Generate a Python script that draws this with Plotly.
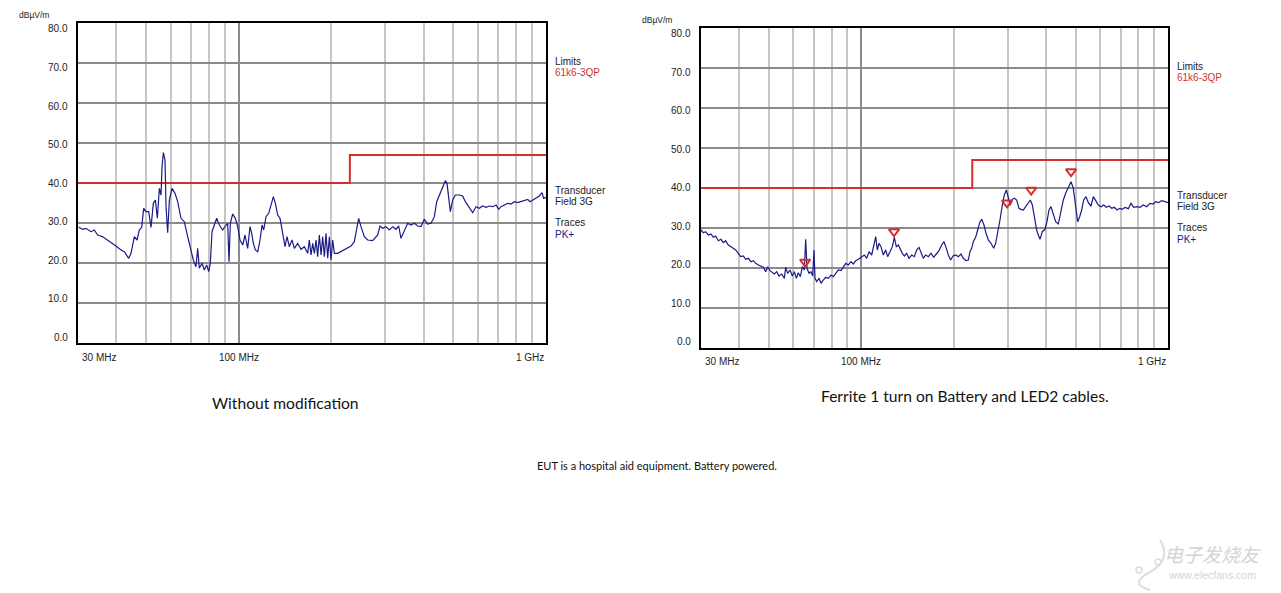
import numpy as np
import plotly.graph_objects as go

W, H = 1281, 593

# ---------------- data ----------------
# Left chart: "Without modification" (frequency MHz, level dBuV/m)
freq_a = [30.15, 31.07, 31.85, 33.07, 33.9, 34.76, 36.09, 37.47, 38.9, 39.88,
          41.41, 42.46, 43.86, 44.63, 45.76, 46.68, 47.5, 48.35, 49.07, 49.94,
          50.95, 51.85, 52.75, 53.56, 54.37, 55.19, 55.88, 56.3, 56.87, 57.58,
          58.02, 58.74, 59.48, 60.68, 62.06, 63.31, 64.91, 66.55, 68.23, 69.96,
          71.19, 72.63, 73.54, 74.46, 75.97, 77.31, 78.68, 79.86, 80.86, 81.89,
          83.34, 84.8, 86.51, 88.7, 90.48, 92.08, 93.01, 93.94, 95.6, 97.53,
          99.26, 101.0, 103.05, 104.85, 106.97, 108.86, 110.23, 111.63, 113.32, 115.32,
          117.35, 119.12, 120.61, 122.74, 125.23, 127.44, 129.68, 131.63, 133.95, 136.32,
          139.04, 141.49, 143.62, 146.16, 149.12, 151.75, 155.57, 159.52, 163.56, 167.71,
          169.81, 171.94, 174.09, 176.3, 178.51, 180.74, 183.01, 185.34, 187.65, 190.0,
          192.38, 194.83, 197.26, 199.73, 202.23, 204.8, 209.95, 215.24, 220.71, 226.27,
          232.0, 237.85, 242.66, 245.7, 250.04, 256.38, 262.85, 272.9, 283.35, 288.35,
          294.11, 301.6, 309.2, 317.0, 325.0, 331.6, 337.4, 345.9, 354.7, 363.7,
          372.9, 382.3, 392.0, 401.9, 412.1, 422.5, 433.2, 440.9, 449.7, 461.1,
          470.4, 476.3, 482.3, 488.3, 496.9, 507.0, 522.4, 535.7, 546.4, 563.1,
          577.3, 591.9, 606.9, 622.3, 638.0, 654.1, 670.7, 687.6, 701.5, 713.9,
          732.0, 750.4, 769.4, 788.9, 808.8, 829.3, 850.2, 871.8, 887.2, 905.0,
          927.9, 951.3, 970.5, 982.7, 1000]
level_a = [28.92, 28.42, 28.67, 27.83, 28.25, 27.0, 26.58, 25.75, 24.92, 24.25,
           23.25, 22.83, 21.17, 22.42, 26.58, 25.75, 28.25, 28.92, 33.67, 32.83,
           32.83, 28.92, 34.92, 35.75, 31.17, 38.67, 37.0, 44.08, 47.58, 45.75,
           34.08, 27.58, 35.75, 38.67, 37.42, 35.33, 31.17, 30.33, 26.58, 23.25,
           20.75, 19.08, 23.67, 18.67, 19.92, 18.25, 19.5, 17.83, 19.92, 27.83,
           29.5, 31.17, 29.5, 28.25, 29.25, 29.92, 20.33, 29.92, 32.25, 31.17,
           29.08, 25.75, 24.5, 27.0, 23.67, 29.08, 27.42, 24.92, 23.25, 22.83,
           25.75, 29.5, 28.25, 31.58, 32.42, 34.92, 36.58, 34.92, 32.0, 31.17,
           27.83, 24.08, 26.58, 24.08, 25.75, 23.67, 24.92, 23.42, 24.08, 22.42,
           25.75, 22.0, 24.92, 22.42, 25.75, 21.58, 27.0, 22.0, 26.58, 21.58,
           27.42, 21.17, 26.58, 20.75, 25.75, 22.42, 22.42, 22.83, 23.25, 23.67,
           24.25, 25.33, 29.5, 31.17, 29.08, 26.58, 25.75, 25.58, 27.0, 29.25,
           28.67, 29.08, 28.25, 29.08, 28.42, 29.25, 26.17, 28.25, 29.92, 29.5,
           29.92, 29.25, 29.08, 30.92, 29.75, 29.92, 31.58, 35.33, 37.0, 39.08,
           40.58, 39.92, 35.75, 32.83, 35.75, 37.0, 37.0, 36.75, 35.33, 33.67,
           32.58, 34.08, 33.67, 34.25, 33.92, 34.25, 34.08, 34.5, 33.42, 34.08,
           34.5, 34.92, 34.75, 35.33, 35.08, 35.33, 35.58, 35.92, 35.33, 35.75,
           36.17, 36.75, 37.58, 36.17, 36.42]

# Right chart: "Ferrite 1 turn on Battery and LED2 cables."
freq_b = [30.0, 30.53, 31.07, 31.7, 32.34, 32.91, 33.49, 34.17, 34.86, 35.48,
          36.1, 36.83, 37.58, 38.24, 38.92, 39.7, 40.41, 41.22, 41.95, 42.8,
          43.67, 44.44, 45.23, 46.14, 47.07, 47.91, 48.75, 49.49, 50.37, 51.26,
          52.03, 52.95, 53.89, 54.98, 56.09, 56.66, 57.51, 58.53, 59.57, 60.47,
          61.38, 62.31, 63.26, 64.21, 65.19, 65.84, 66.5, 67.51, 68.53, 69.39,
          70.09, 70.62, 71.51, 72.77, 73.87, 75.18, 76.51, 78.06, 79.64, 81.04,
          82.48, 84.14, 85.85, 87.37, 88.91, 90.71, 92.54, 94.18, 95.84, 97.78,
          100.26, 102.29, 104.09, 105.93, 108.08, 109.99, 111.37, 112.75, 114.17, 115.9,
          117.95, 120.04, 121.86, 124.01, 126.2, 128.11, 130.05, 132.02, 134.0, 136.04,
          138.09, 140.53, 143.02, 145.91, 148.86, 151.49, 154.17, 156.51, 159.26, 162.08,
          165.35, 168.7, 172.12, 175.6, 179.15, 182.77, 186.0, 189.29, 192.15, 195.55,
          199.01, 203.03, 207.14, 211.33, 215.06, 219.41, 223.29, 226.1, 228.94, 231.82,
          235.92, 239.5, 243.73, 246.8, 251.16, 254.97, 259.47, 264.72, 270.08, 274.17,
          278.32, 283.22, 288.23, 292.59, 297.01, 301.5, 306.06, 310.71, 315.39, 320.97,
          326.64, 331.59, 337.47, 343.44, 350.37, 355.68, 361.08, 366.54, 373.02, 377.67,
          382.44, 389.19, 397.08, 403.08, 409.2, 415.38, 422.73, 430.2, 438.9, 447.78,
          455.7, 463.77, 473.16, 482.73, 491.25, 499.95, 507.51, 515.19, 522.99, 530.91,
          540.3, 549.84, 560.97, 570.9, 580.98, 592.74, 604.74, 616.95, 629.43, 642.15,
          655.14, 668.37, 681.9, 695.67, 709.74, 724.11, 742.44, 757.44, 772.77, 790.38,
          810.39, 830.91, 851.94, 873.48, 895.62, 911.46, 929.88, 953.4, 977.55, 1000]
level_b = [29.5, 28.83, 29.08, 28.25, 28.5, 27.67, 28.0, 26.83, 27.17, 26.33,
           26.83, 25.75, 25.33, 24.92, 24.5, 23.67, 22.83, 23.0, 22.17, 22.42,
           21.58, 21.83, 21.17, 20.75, 20.5, 20.17, 19.08, 20.33, 19.33, 18.83,
           18.5, 19.08, 18.0, 18.5, 17.42, 20.17, 18.67, 19.5, 18.0, 19.08,
           17.42, 18.83, 17.83, 20.33, 19.5, 27.17, 19.92, 18.67, 19.08, 18.0,
           24.5, 17.42, 16.58, 17.42, 16.17, 17.0, 17.67, 17.42, 18.25, 17.83,
           18.67, 19.5, 19.33, 20.33, 21.17, 20.75, 21.58, 21.0, 21.83, 22.17,
           22.83, 23.25, 22.42, 24.08, 23.25, 25.75, 27.83, 24.5, 26.17, 25.33,
           23.25, 24.5, 22.83, 24.08, 25.33, 27.67, 25.33, 25.75, 24.5, 23.67,
           23.0, 23.67, 22.42, 23.25, 22.83, 24.5, 25.17, 23.83, 22.42, 23.25,
           22.83, 23.67, 22.67, 23.5, 24.33, 25.75, 26.58, 24.92, 23.25, 22.0,
           23.0, 23.25, 22.83, 23.5, 22.42, 21.83, 22.0, 24.08, 24.92, 26.58,
           27.67, 29.5, 31.58, 32.17, 30.75, 28.67, 27.0, 26.17, 24.92, 26.17,
           28.67, 32.0, 35.75, 38.25, 39.5, 37.83, 35.75, 37.17, 37.42, 37.0,
           34.92, 34.67, 34.5, 35.33, 36.17, 37.0, 35.75, 32.83, 29.5, 28.25,
           27.17, 29.08, 29.67, 31.58, 34.5, 35.33, 33.25, 31.58, 31.0, 34.08,
           37.0, 38.67, 40.33, 41.58, 39.92, 35.33, 31.58, 32.83, 34.5, 37.0,
           37.83, 36.33, 35.5, 37.83, 37.0, 35.75, 35.33, 35.75, 35.17, 35.5,
           34.92, 35.17, 34.5, 34.92, 34.67, 35.17, 34.83, 36.17, 35.17, 35.33,
           35.17, 35.75, 35.33, 36.17, 36.0, 36.58, 36.33, 36.83, 36.58, 36.33]

# Markers on the right chart
marker_freq = [65.6, 127.8, 298.6, 358.0, 483.0]
marker_level = [21.5, 29.1, 36.3, 39.5, 44.1]

# Limit line 61k6-3QP
limit_freq = [30, 230, 230, 1000]
limit_level = [40, 40, 47, 47]

# Axis ticks
x_tick_vals = [30, 100, 1000]
x_tick_text = ["30 MHz", "100 MHz", "1 GHz"]
x_minor_vals = [40, 50, 60, 70, 80, 90, 200, 300, 400, 500, 600, 700, 800, 900]
y_tick_vals = [0, 10, 20, 30, 40, 50, 60, 70, 80]
y_unit = "dBµV/m"

captions = ["Without modification", "Ferrite 1 turn on Battery and LED2 cables."]
footer = "EUT is a hospital aid equipment. Battery powered."

# ---------------- styling ----------------
TRACE = "#1b1b87"
LIMIT = "#d23030"
TXT = "#222222"
FONT = "Liberation Sans, Arial, sans-serif"
CAPF = "Lato, Open Sans, Liberation Sans, sans-serif"
FS = 10


def px(x):
    return x / W


def py(y):
    return 1 - y / H


# plot boxes in pixels: (left, right, top, bottom)
boxes = [(78, 546, 23, 343), (701, 1168, 28, 348)]

fig = go.Figure()
layout = dict(
    width=W, height=H, margin=dict(l=0, r=0, t=0, b=0),
    paper_bgcolor="white", plot_bgcolor="white", showlegend=False,
)

annotations = []
for i, (l, r, t, b) in enumerate(boxes):
    sfx = "" if i == 0 else str(i + 1)
    xa, ya = "x" + sfx, "y" + sfx
    layout["xaxis" + sfx] = dict(
        type="log", domain=[px(l), px(r)], anchor=ya,
        range=[np.log10(30), np.log10(1000)],
        showline=True, mirror=True, linecolor="black", linewidth=2,
        showticklabels=False, ticks="", tickvals=[100],
        showgrid=True, gridcolor="#8a8a8a", gridwidth=2, zeroline=False,
        minor=dict(tickvals=x_minor_vals, showgrid=True, gridcolor="#c6c6c6",
                   gridwidth=2, ticks=""),
    )
    layout["yaxis" + sfx] = dict(
        domain=[py(b), py(t)], anchor=xa, range=[0, 80],
        showline=True, mirror=True, linecolor="black", linewidth=2,
        showticklabels=False, ticks="", tickvals=y_tick_vals[1:-1],
        showgrid=True, gridcolor="#8a8a8a", gridwidth=2, zeroline=False,
    )

    fig.add_trace(go.Scatter(x=limit_freq, y=limit_level, mode="lines",
                             line=dict(color=LIMIT, width=2), xaxis=xa, yaxis=ya,
                             hoverinfo="skip"))
    fx, lv = (freq_a, level_a) if i == 0 else (freq_b, level_b)
    fig.add_trace(go.Scatter(x=fx, y=lv, mode="lines",
                             line=dict(color=TRACE, width=1.2), xaxis=xa, yaxis=ya))

    # y tick labels
    for v in y_tick_vals:
        annotations.append(dict(
            x=px(l - 8), xref="paper", xanchor="right",
            y=v, yref=ya, yanchor="middle", yshift=-(v - 40) * 0.15,
            text=f"{v:.1f}", showarrow=False, font=dict(family=FONT, size=FS, color=TXT)))
    # unit label
    annotations.append(dict(
        x=px(17 if i == 0 else 640), xref="paper", xanchor="left",
        y=py(15 if i == 0 else 20), yref="paper", yanchor="middle",
        text=y_unit, showarrow=False, font=dict(family=FONT, size=8.5, color=TXT)))
    # x tick labels
    for v, s in zip(x_tick_vals, x_tick_text):
        anchor = "left" if v == x_tick_vals[0] else ("right" if v == x_tick_vals[-1] else "center")
        annotations.append(dict(
            x=np.log10(v), xref=xa, xanchor=anchor,
            xshift=2 if anchor == "left" else 0,
            y=py(b + 14), yref="paper", yanchor="middle",
            text=s, showarrow=False, font=dict(family=FONT, size=FS, color=TXT)))
    # side legend
    side = [("Limits", 70.3, TXT), ("61k6-3QP", 67.6, LIMIT),
            ("Transducer", 38.1, TXT), ("Field 3G", 35.3, TXT),
            ("Traces", 30.2, TXT), ("PK+", 27.2, TRACE)]
    for s, yv, c in side:
        annotations.append(dict(
            x=px(r + 7), xref="paper", xanchor="left",
            y=yv, yref=ya, yanchor="middle",
            text=s, showarrow=False, font=dict(family=FONT, size=FS, color=c)))

fig.add_trace(go.Scatter(x=marker_freq, y=marker_level, mode="markers",
                         marker=dict(symbol="triangle-down-open", size=9, color=LIMIT,
                                     line=dict(width=2, color=LIMIT)),
                         xaxis="x2", yaxis="y2"))

# captions
cap_common = dict(xref="paper", yref="paper", xanchor="center", yanchor="middle",
                  showarrow=False)
annotations.append(dict(x=px(285), y=py(403), text=captions[0],
                        font=dict(family=CAPF, size=15.6, color="#111111"), **cap_common))
annotations.append(dict(x=px(965), y=py(396), text=captions[1],
                        font=dict(family=CAPF, size=15.6, color="#111111"), **cap_common))
annotations.append(dict(x=px(657), y=py(465), text=footer,
                        font=dict(family=CAPF, size=11, color="#111111"), **cap_common))
# watermark
annotations.append(dict(x=px(1212), y=py(553), text="<i>电子发烧友</i>",
                        font=dict(family="Noto Sans CJK SC", size=19, color="#d4d4d4"),
                        **cap_common))
annotations.append(dict(x=px(1212), y=py(575), text="www.elecfans.com",
                        font=dict(family="Liberation Sans", size=10.5, color="#d4d4d4"),
                        **cap_common))

layout["annotations"] = annotations
layout["shapes"] = [
    dict(type="path", xref="paper", yref="paper",
         path=f"M {px(1160)},{py(540)} Q {px(1172)},{py(560)} {px(1150)},{py(572)} "
              f"Q {px(1128)},{py(584)} {px(1150)},{py(590)}",
         line=dict(color="#dcdcdc", width=2)),
    dict(type="circle", xref="paper", yref="paper",
         x0=px(1136), x1=px(1142), y0=py(573), y1=py(567),
         line=dict(color="#dcdcdc", width=1.5)),
    dict(type="circle", xref="paper", yref="paper",
         x0=px(1155), x1=px(1161), y0=py(565), y1=py(559),
         line=dict(color="#dcdcdc", width=1.5)),
]
fig.update_layout(**layout)
fig.write_html("out.html", config={"displayModeBar": False},
               post_script="document.body.style.margin='0px';")
